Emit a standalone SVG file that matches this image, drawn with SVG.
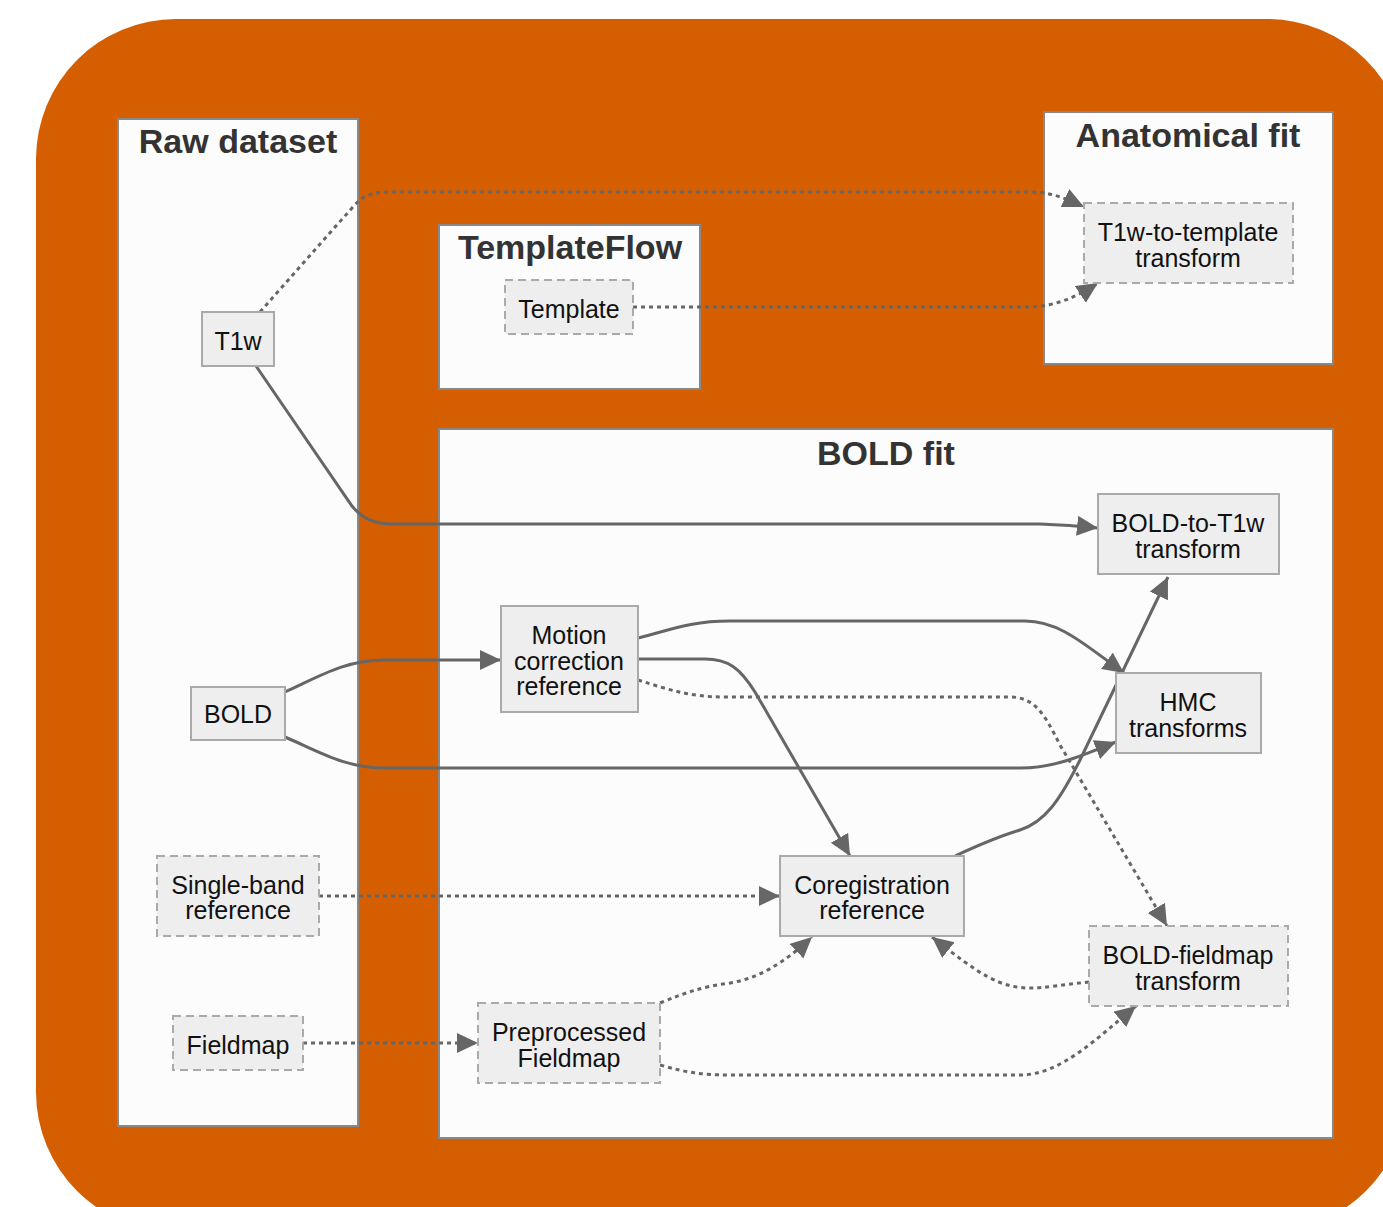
<svg xmlns="http://www.w3.org/2000/svg" width="1383" height="1207" viewBox="0 0 1383 1207">
<defs>
<marker id="arr" markerUnits="userSpaceOnUse" markerWidth="22" markerHeight="22" refX="21" refY="10" orient="auto">
<path d="M0,0 L21,10 L0,20 z" fill="#666666"/>
</marker>
<style>
.cl{fill:#fcfcfc;stroke:#888888;stroke-width:2}
.ct{font-family:"Liberation Sans",Arial,sans-serif;font-size:34px;font-weight:bold;fill:#333333;text-anchor:middle}
.n{fill:#eeeeee;stroke:#aaaaaa;stroke-width:2}
.d{stroke-dasharray:8,5}
.t{font-family:"Liberation Sans",Arial,sans-serif;font-size:25px;fill:#111111;text-anchor:middle}
.e{fill:none;stroke:#666666;stroke-width:3;marker-end:url(#arr)}
.o{stroke-dasharray:4,4}
</style>
</defs>
<rect x="0" y="0" width="1383" height="1207" fill="#ffffff"/>
<rect x="36" y="19" width="1371" height="1213" rx="140" ry="140" fill="#d55e00"/>

<g id="cluster-raw"><rect class="cl" x="118" y="119" width="240" height="1007"/><text class="ct" x="238" y="153">Raw dataset</text></g>
<g id="cluster-templateflow"><rect class="cl" x="439" y="225" width="261" height="164"/><text class="ct" x="570" y="259">TemplateFlow</text></g>
<g id="cluster-anat"><rect class="cl" x="1044" y="112" width="289" height="252"/><text class="ct" x="1188" y="147">Anatomical fit</text></g>
<g id="cluster-bold"><rect class="cl" x="439" y="429" width="894" height="709"/><text class="ct" x="886" y="465">BOLD fit</text></g>

<g id="edges">
<path class="e o" d="M260,312 L352,208 C362,196 370,192 392,192 L1030,192 C1050,192 1065,198 1084,207"/>
<path class="e o" d="M633,307 L1030,307 C1055,306 1075,298 1098,283"/>
<path class="e" d="M256,366 L352,506 Q366,524 392,524 L1040,524 Q1070,525 1098,528"/>
<path class="e" d="M285,692 C320,676 345,660 385,660 L501,660"/>
<path class="e" d="M285,737 C320,752 345,768 385,768 L1020,768 C1055,768 1080,756 1116,742"/>
<path class="e" d="M638,638 C670,630 690,621 730,621 L1025,621 C1060,621 1085,645 1124,673"/>
<path class="e" d="M638,659 L705,659 C728,659 740,668 755,692 L850,856"/>
<path class="e o" d="M638,680 C670,690 690,697 725,697 L1010,697 C1035,697 1045,715 1060,745 L1167,926"/>
<path class="e" d="M955,856 C985,842 1000,836 1020,830 C1045,822 1060,800 1080,760 L1168,577"/>
<path class="e o" d="M319,896 L780,896"/>
<path class="e o" d="M303,1043 L478,1043"/>
<path class="e o" d="M660,1003 C685,993 700,987 730,983 C760,978 785,962 812,937"/>
<path class="e o" d="M660,1065 C685,1072 700,1075 730,1075 L1020,1075 C1060,1075 1095,1040 1136,1006"/>
<path class="e o" d="M1089,982 C1060,985 1045,988 1030,988 C1000,988 980,975 932,937"/>
</g>

<g id="n-t1w"><rect class="n" x="202" y="312" width="72" height="54"/><text class="t" x="238" y="350">T1w</text></g>
<g id="n-bold"><rect class="n" x="191" y="687" width="94" height="53"/><text class="t" x="238" y="723">BOLD</text></g>
<g id="n-sbref"><rect class="n d" x="157" y="856" width="162" height="80"/><text class="t" x="238" y="894">Single-band</text><text class="t" x="238" y="919">reference</text></g>
<g id="n-fmap"><rect class="n d" x="173" y="1016" width="130" height="54"/><text class="t" x="238" y="1054">Fieldmap</text></g>
<g id="n-template"><rect class="n d" x="505" y="280" width="128" height="54"/><text class="t" x="569" y="318">Template</text></g>
<g id="n-t1w2tpl"><rect class="n d" x="1084" y="203" width="209" height="80"/><text class="t" x="1188" y="241">T1w-to-template</text><text class="t" x="1188" y="267">transform</text></g>
<g id="n-bold2t1w"><rect class="n" x="1098" y="494" width="181" height="80"/><text class="t" x="1188" y="532">BOLD-to-T1w</text><text class="t" x="1188" y="558">transform</text></g>
<g id="n-hmcref"><rect class="n" x="501" y="606" width="137" height="106"/><text class="t" x="569" y="644">Motion</text><text class="t" x="569" y="670">correction</text><text class="t" x="569" y="695">reference</text></g>
<g id="n-hmc"><rect class="n" x="1116" y="673" width="145" height="80"/><text class="t" x="1188" y="711">HMC</text><text class="t" x="1188" y="737">transforms</text></g>
<g id="n-coreg"><rect class="n" x="780" y="856" width="184" height="80"/><text class="t" x="872" y="894">Coregistration</text><text class="t" x="872" y="919">reference</text></g>
<g id="n-boldfmap"><rect class="n d" x="1089" y="926" width="199" height="80"/><text class="t" x="1188" y="964">BOLD-fieldmap</text><text class="t" x="1188" y="990">transform</text></g>
<g id="n-prepfmap"><rect class="n d" x="478" y="1003" width="182" height="80"/><text class="t" x="569" y="1041">Preprocessed</text><text class="t" x="569" y="1067">Fieldmap</text></g>
</svg>
